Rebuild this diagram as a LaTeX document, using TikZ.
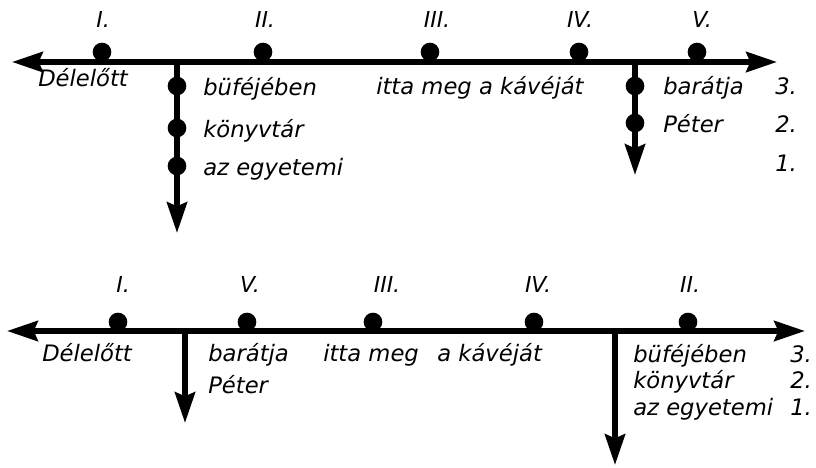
\documentclass[tikz,border=0pt]{standalone}
\usepackage{fontspec}
\setmainfont{DejaVu Sans}
\usetikzlibrary{arrows.meta}

\tikzset{
    blob/.style={circle, fill, inner sep=0pt, minimum size=14pt},
    track/.style={line width=4.4pt, >={Stealth[length=23pt, width=15pt, inset=3pt]}},
    word/.style={anchor=base west, inner sep=0pt, font=\fontsize{17}{20}\selectfont\itshape},
    rank/.style={anchor=base, inner sep=0pt, font=\fontsize{16.5}{19}\selectfont\itshape},
}

\begin{document}
\begin{tikzpicture}[x=0.75pt, y=-0.75pt]
    \useasboundingbox (0,0) rectangle (816,467);

    % upper line
    \coordinate (L) at (12,62);
    \coordinate (R) at (777,62);
    \coordinate (J1) at (177,62);
    \coordinate (A1) at (177,233);
    \coordinate (J2) at (635,62);
    \coordinate (A2) at (635,175);

    \draw[track, <->] (L) -- (R);
    \draw[track, ->] (J1) -- (A1);
    \draw[track, ->] (J2) -- (A2);

    \node[blob] (I) at (102,52) {};
    \node[blob] (II) at (263,52) {};
    \node[blob] (III) at (430,52) {};
    \node[blob] (IV) at (579,52) {};
    \node[blob] (V) at (697,52) {};

    \node[rank] (lI) at (103,28) {I.};
    \node[rank] (lII) at (265,28) {II.};
    \node[rank] (lIII) at (437,28) {III.};
    \node[rank] (lIV) at (580,28) {IV.};
    \node[rank] (lV) at (702,28) {V.};

    \node[blob] (b1) at (177,86) {};
    \node[blob] (k1) at (177,128) {};
    \node[blob] (e1) at (177,166) {};
    \node[blob] (ba1) at (635,86) {};
    \node[blob] (p1) at (635,123) {};

    \node[word] (del1) at (38,86) {Délelőtt};
    \node[word] (buf1) at (203,95) {büféjében};
    \node[word] (kon1) at (203,137) {könyvtár};
    \node[word] (egy1) at (203,175) {az egyetemi};
    \node[word] (itta1) at (376,94) {itta meg a kávéját};
    \node[word] (bar1) at (663,94) {barátja};
    \node[word] (pet1) at (663,132) {Péter};
    \node[word] (n31) at (775,94) {3.};
    \node[word] (n21) at (775,132) {2.};
    \node[word] (n11) at (775,171) {1.};

    % lower line
    \coordinate (L2) at (7,331);
    \coordinate (R2) at (805,331);
    \coordinate (J3) at (185,331);
    \coordinate (A3) at (185,423);
    \coordinate (J4) at (615,331);
    \coordinate (A4) at (615,465);

    \draw[track, <->] (L2) -- (R2);
    \draw[track, ->] (J3) -- (A3);
    \draw[track, ->] (J4) -- (A4);

    \node[blob] (I2) at (118,322) {};
    \node[blob] (V2) at (247,322) {};
    \node[blob] (III2) at (373,322) {};
    \node[blob] (IV2) at (534,322) {};
    \node[blob] (II2) at (688,322) {};

    \node[rank] (lI2) at (123,292) {I.};
    \node[rank] (lV2) at (250,292) {V.};
    \node[rank] (lIII2) at (387,292) {III.};
    \node[rank] (lIV2) at (538,292) {IV.};
    \node[rank] (lII2) at (690,292) {II.};

    \node[word] (del2) at (42,361) {Délelőtt};
    \node[word] (bar2) at (208,361) {barátja};
    \node[word] (pet2) at (208,393) {Péter};
    \node[word] (itta2) at (323,361) {itta meg\hspace{0.5em} a kávéját};
    \node[word] (buf2) at (633,362) {büféjében};
    \node[word] (kon2) at (633,388) {könyvtár};
    \node[word] (egy2) at (633,415) {az egyetemi};
    \node[word] (n32) at (790,362) {3.};
    \node[word] (n22) at (790,388) {2.};
    \node[word] (n12) at (790,415) {1.};
\end{tikzpicture}
\end{document}
